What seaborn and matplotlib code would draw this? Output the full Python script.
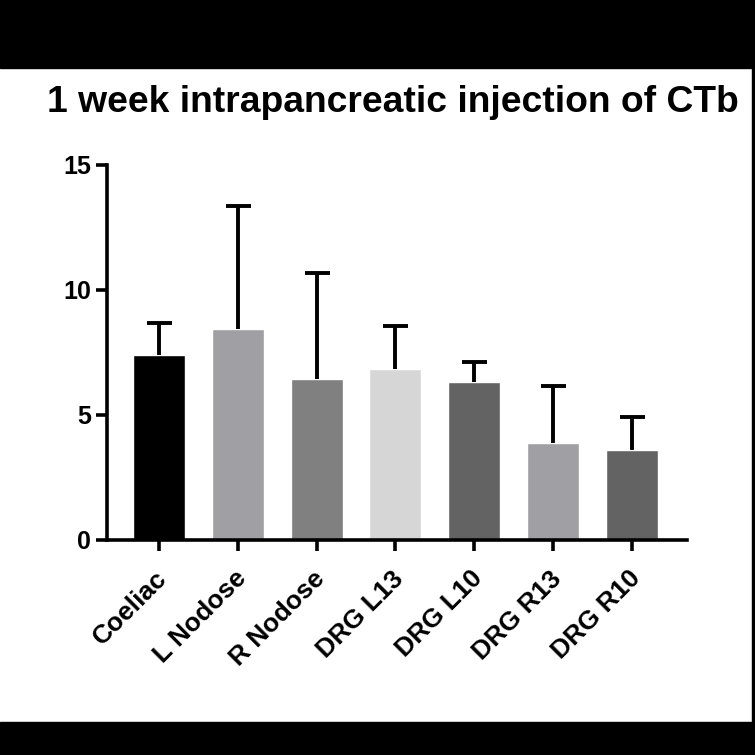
import numpy as np
import pandas as pd
import seaborn as sns
import matplotlib.pyplot as plt
from matplotlib.patches import Rectangle
from matplotlib.transforms import ScaledTranslation

# values
regions = ["Coeliac", "L Nodose", "R Nodose", "DRG L13", "DRG L10", "DRG R13", "DRG R10"]
means = [7.4, 8.44, 6.43, 6.84, 6.31, 3.87, 3.61]
err_top = [8.68, 13.37, 10.69, 8.57, 7.13, 6.17, 4.91]
bar_colors = ["#000000", "#a0a0a4", "#808080", "#d6d6d6", "#636363", "#a0a0a4", "#636363"]

df = pd.DataFrame({"region": regions, "mean": means})
errs = np.array(err_top) - np.array(means)

sns.set_style("ticks")
plt.rcParams['font.family'] = ['Liberation Sans', 'DejaVu Sans']
plt.rcParams.update({"text.color": "black", "axes.edgecolor": "black",
                     "xtick.color": "black", "ytick.color": "black",
                     "axes.labelcolor": "black"})

fig = plt.figure(figsize=(7.55, 7.55), dpi=100)
ax = fig.add_axes([0.1417, 0.2848, 0.7683, 0.4967])

sns.barplot(data=df, x="region", y="mean", hue="region", palette=bar_colors,
            errorbar=None, width=0.66, legend=False, saturation=1, ax=ax)
eb = ax.errorbar(range(len(regions)), means, yerr=[np.zeros(len(errs)), errs],
                 fmt="none", ecolor="black", elinewidth=2.8, capsize=9, capthick=2.8)
eb[1][0].set_visible(False)  # only the upper cap, like the original

ax.set_ylim(0, 15)
ax.set_xlim(-0.66, 6.7)
ax.set_yticks([0, 5, 10, 15])
ax.set_xlabel("")
ax.set_ylabel("")
sns.despine(ax=ax)
for s in ["left", "bottom"]:
    ax.spines[s].set_linewidth(2.6)
ax.tick_params(width=2.6, length=8, labelsize=18)
ax.tick_params(axis="x", pad=11)
for lab in ax.get_yticklabels():
    lab.set_fontweight("bold")
ax.set_xticks(range(len(regions)))
ax.set_xticklabels(regions, rotation=45, ha="right", rotation_mode="anchor",
                   fontweight="bold", fontsize=19)
shift = ScaledTranslation(-4 / 100, 0, fig.dpi_scale_trans)
for lab in ax.get_xticklabels():
    lab.set_transform(lab.get_transform() + shift)

fig.text(47 / 755, 1 - 112 / 755, "1 week intrapancreatic injection of CTb",
         fontsize=26.8, fontweight="bold", va="baseline", ha="left")

# black bands of the screenshot
fig.patches.append(Rectangle((0, 1 - 68 / 755), 1, 68 / 755, transform=fig.transFigure,
                             color="black", zorder=0))
fig.patches.append(Rectangle((0, 0), 1, 33 / 755, transform=fig.transFigure,
                             color="black", zorder=0))
fig.patches.append(Rectangle((1 - 3 / 755, 0), 3 / 755, 1, transform=fig.transFigure,
                             color="black", zorder=0))

plt.savefig("out.png", dpi=100)
